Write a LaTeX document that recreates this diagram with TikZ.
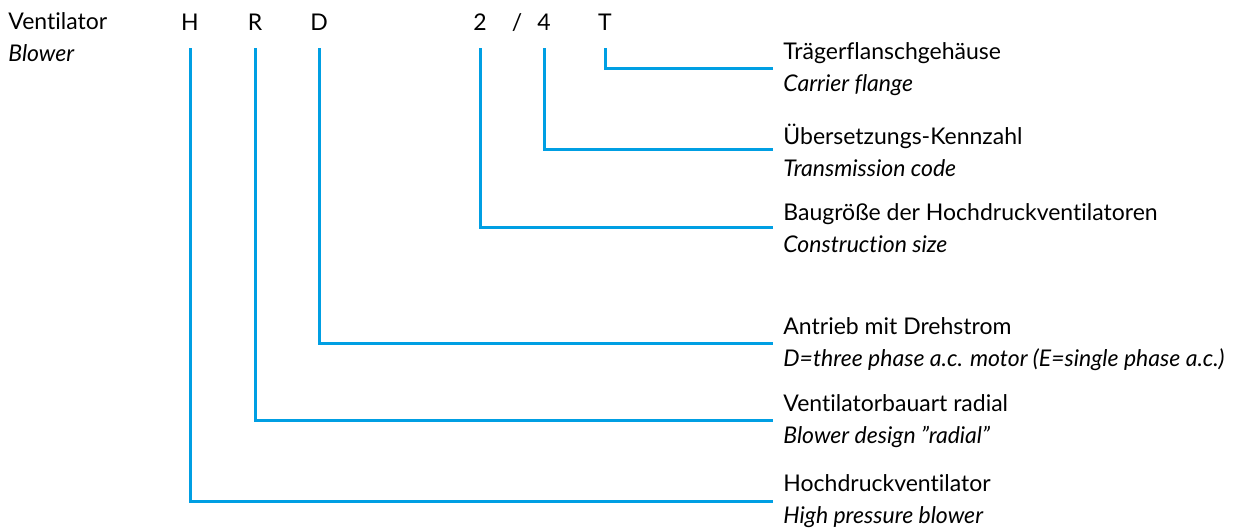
\documentclass[tikz,border=0pt]{standalone}
\usepackage{fontspec}
\setmainfont{Lato}[Ligatures={NoCommon,NoContextual}]
\definecolor{lineblue}{HTML}{009FE3}
\tikzset{
	code/.style={inner sep=0pt, minimum height=26pt, text height=8.2pt, text depth=0pt},
	desc/.style={anchor=west, align=left, inner sep=5pt},
	conn/.style={lineblue, line width=1.5pt},
}
\begin{document}
\begin{tikzpicture}[x=0.5pt,y=-0.5pt,font=\fontsize{11.5}{16}\selectfont]
				\useasboundingbox (0,0) rectangle (1246,528);
				\node [anchor=west, align=left, inner sep=0pt] (name) at (8,37) {Ventilator\\\textit{Blower}};
				% type code letters
				\node [code] (H) at (190,22) {H};
				\node [code] (R) at (255,22) {R};
				\node [code] (D) at (319,22) {D};
				\node [code] (size) at (480,22) {2};
				\node [code] (slash) at (517,22) {/};
				\node [code] (ratio) at (544,22) {4};
				\node [code] (T) at (605,22) {T};
				% descriptions
				\node [desc] (flange) at (773,69) {Trägerflanschgehäuse\\\textit{Carrier flange}};
				\node [desc] (trans) at (773,150) {Übersetzungs-Kennzahl\\\textit{Transmission code}};
				\node [desc] (build) at (773,228) {Baugröße der Hochdruckventilatoren\\\textit{Construction size}};
				\node [desc] (drive) at (773,344) {Antrieb mit Drehstrom\\\textit{D=three phase a.c. motor (E=single phase a.c.)}};
				\node [desc] (design) at (773,421) {Ventilatorbauart radial\\\textit{Blower design ”radial”}};
				\node [desc] (hp) at (773,501) {Hochdruckventilator\\\textit{High pressure blower}};
				% connectors
				\draw [conn] (T.south) |- (flange.west);
				\draw [conn] (ratio.south) |- (trans.west);
				\draw [conn] (size.south) |- (build.west);
				\draw [conn] (D.south) |- (drive.west);
				\draw [conn] (R.south) |- (design.west);
				\draw [conn] (H.south) |- (hp.west);
\end{tikzpicture}
\end{document}
